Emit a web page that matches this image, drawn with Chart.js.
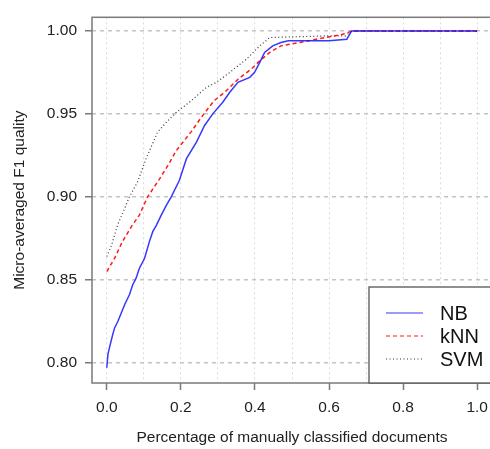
<!DOCTYPE html>
<html>
<head>
<meta charset="utf-8">
<script src="https://cdn.jsdelivr.net/npm/chart.js@4/dist/chart.umd.min.js"></script>
<style>
    html, body { margin: 0; padding: 0; overflow: hidden; background: #fff; }
    #wrap { width: 500px; height: 449px; }
</style>
</head>
<body>
<div id="wrap"><canvas id="myChart"></canvas></div>
<script>
// values
const nbX = [0, 0.003, 0.007, 0.016, 0.021, 0.030, 0.039, 0.048, 0.061, 0.070, 0.079, 0.088, 0.102, 0.115, 0.124, 0.134, 0.147, 0.161, 0.174, 0.196, 0.215, 0.242, 0.264, 0.286, 0.313, 0.332, 0.354, 0.386, 0.399, 0.413, 0.426, 0.448, 0.470, 0.490, 0.600, 0.648, 0.661, 1.0];
const nbY = [0.797, 0.805, 0.809, 0.817, 0.821, 0.825, 0.830, 0.835, 0.841, 0.847, 0.851, 0.857, 0.863, 0.873, 0.879, 0.883, 0.889, 0.895, 0.900, 0.910, 0.923, 0.933, 0.943, 0.950, 0.957, 0.963, 0.969, 0.972, 0.975, 0.981, 0.987, 0.991, 0.993, 0.994, 0.994, 0.995, 1.000, 1.000];

const knnX = [0, 0.021, 0.042, 0.069, 0.088, 0.110, 0.143, 0.165, 0.188, 0.227, 0.262, 0.290, 0.318, 0.355, 0.390, 0.413, 0.440, 0.470, 0.520, 0.566, 0.637, 0.664, 1.0];
const knnY = [0.855, 0.863, 0.873, 0.883, 0.889, 0.900, 0.911, 0.919, 0.928, 0.939, 0.950, 0.958, 0.963, 0.971, 0.977, 0.982, 0.987, 0.991, 0.993, 0.995, 0.998, 1.000, 1.000];

const svmX = [0, 0.013, 0.029, 0.048, 0.061, 0.083, 0.106, 0.137, 0.161, 0.188, 0.223, 0.269, 0.296, 0.332, 0.377, 0.413, 0.440, 0.594, 0.645, 0.661, 1.0];
const svmY = [0.864, 0.871, 0.883, 0.893, 0.900, 0.909, 0.923, 0.939, 0.945, 0.951, 0.957, 0.966, 0.969, 0.975, 0.983, 0.991, 0.996, 0.997, 0.997, 1.000, 1.000];

const seriesNames = ['NB', 'kNN', 'SVM'];
const xGridValues = [0, 0.1, 0.2, 0.3, 0.4, 0.5, 0.6, 0.7, 0.8, 0.9, 1.0];
const xLabelValues = [0, 0.2, 0.4, 0.6, 0.8, 1.0];
const yTickValues = [0.80, 0.85, 0.90, 0.95, 1.00];

const FONT = 'Liberation Sans, Arial, Helvetica, sans-serif';

function toPoints(xs, ys) {
    return xs.map((x, i) => ({ x: x, y: ys[i] }));
}

function isLabelTick(v) {
    return xLabelValues.some(l => Math.abs(l - v) < 1e-9);
}

// R style box around the plot region
const frameBox = {
    id: 'frameBox',
    afterDraw(chart) {
        const { ctx, chartArea: a } = chart;
        ctx.save();
        ctx.strokeStyle = '#7a7a7a';
        ctx.lineWidth = 1.5;
        ctx.setLineDash([]);
        ctx.strokeRect(a.left, a.top, a.right - a.left, a.bottom - a.top);
        ctx.restore();
    }
};

// legend box in the bottom right corner
const cornerLegend = {
    id: 'cornerLegend',
    afterDraw(chart) {
        const { ctx, chartArea: a } = chart;
        const left = a.left + 277, top = a.bottom - 96;
        ctx.save();
        ctx.fillStyle = '#fff';
        ctx.fillRect(left, top, a.right - left, a.bottom - top);
        ctx.strokeStyle = '#555';
        ctx.lineWidth = 1.3;
        ctx.setLineDash([]);
        ctx.strokeRect(left, top, a.right - left + 10, a.bottom - top);
        chart.data.datasets.forEach((ds, i) => {
            const y = top + 26 + i * 23;
            ctx.beginPath();
            ctx.strokeStyle = ds.borderColor;
            ctx.lineWidth = 1.2;
            ctx.setLineDash(ds.borderDash || []);
            ctx.moveTo(left + 17, y);
            ctx.lineTo(left + 54, y);
            ctx.stroke();
            ctx.setLineDash([]);
            ctx.fillStyle = '#111';
            ctx.font = '20px ' + FONT;
            ctx.textBaseline = 'middle';
            ctx.textAlign = 'left';
            ctx.fillText(ds.label, left + 71, y + 1);
        });
        ctx.restore();
    }
};

document.addEventListener('DOMContentLoaded', function () {
    const data = {
        datasets: [
            {
                label: seriesNames[0],
                data: toPoints(nbX, nbY),
                borderColor: 'rgba(20, 20, 255, 0.85)',
                borderWidth: 1.5,
                borderDash: []
            },
            {
                label: seriesNames[1],
                data: toPoints(knnX, knnY),
                borderColor: 'rgba(255, 0, 0, 0.9)',
                borderWidth: 1.5,
                borderDash: [4, 3]
            },
            {
                label: seriesNames[2],
                data: toPoints(svmX, svmY),
                borderColor: '#333',
                borderWidth: 1.2,
                borderDash: [1, 2.5]
            }
        ]
    };

    const config = {
        type: 'line',
        data: data,
        plugins: [frameBox, cornerLegend],
        options: {
            responsive: true,
            maintainAspectRatio: false,
            animation: false,
            layout: { padding: { top: 15, right: 8, left: 0, bottom: 0 } },
            elements: { point: { radius: 0 }, line: { tension: 0 } },
            plugins: { legend: { display: false }, tooltip: { enabled: false } },
            scales: {
                x: {
                    type: 'linear',
                    min: -0.04,
                    max: 1.04,
                    afterBuildTicks: scale => { scale.ticks = xGridValues.map(v => ({ value: v })); },
                    afterFit: scale => { scale.height = 66; },
                    ticks: {
                        autoSkip: false,
                        maxRotation: 0,
                        padding: 8,
                        color: '#222',
                        font: { family: FONT, size: 15.5 },
                        callback: v => isLabelTick(v) ? v.toFixed(1) : ''
                    },
                    grid: {
                        color: '#dcdcdc',
                        lineWidth: 1,
                        tickLength: 7,
                        tickWidth: 1.5,
                        tickColor: c => (c.tick && isLabelTick(c.tick.value)) ? '#7a7a7a' : 'rgba(0,0,0,0)'
                    },
                    border: { display: false, dash: [2, 3] },
                    title: {
                        display: true,
                        text: 'Percentage of manually classified documents',
                        color: '#222',
                        font: { family: FONT, size: 15.5 },
                        padding: { top: 0, bottom: 2 }
                    }
                },
                y: {
                    type: 'linear',
                    min: 0.7878,
                    max: 1.0082,
                    afterBuildTicks: scale => { scale.ticks = yTickValues.map(v => ({ value: v })); },
                    afterFit: scale => { scale.width = 92; },
                    ticks: {
                        padding: 8,
                        color: '#222',
                        font: { family: FONT, size: 15.5 },
                        callback: v => v.toFixed(2)
                    },
                    grid: {
                        color: '#c4c4c4',
                        lineWidth: 1.5,
                        tickLength: 7,
                        tickWidth: 1.5,
                        tickColor: '#7a7a7a'
                    },
                    border: { display: false, dash: [4, 4] },
                    title: {
                        display: true,
                        text: 'Micro-averaged F1 quality',
                        color: '#222',
                        font: { family: FONT, size: 15.5 },
                        padding: { top: 10, bottom: 0 }
                    }
                }
            }
        }
    };

    const ctx = document.getElementById('myChart').getContext('2d');
    new Chart(ctx, config);
});
</script>
</body>
</html>
